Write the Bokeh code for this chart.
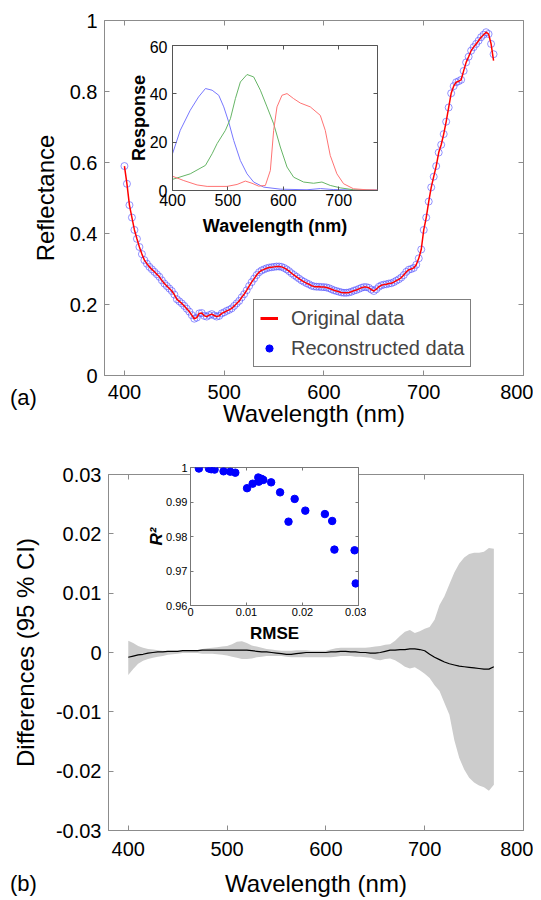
from bokeh.plotting import figure
from bokeh.models import (Range1d, LinearAxis, FixedTicker, Legend, LegendItem, GridBox,
                          Column, Div, CustomLabelingPolicy)
from bokeh.embed import file_html
from bokeh.resources import INLINE

FONT = "Liberation Sans"
GRAY = "#8c8c8c"

# ---------------- data: panel (a) main ----------------
wavelength_a = [400 + 2.5 * i for i in range(149)]
original = [
    0.590, 0.540, 0.480, 0.445, 0.410, 0.385, 0.362, 0.342, 0.325, 0.315,
    0.306, 0.299, 0.292, 0.285, 0.278, 0.268, 0.259, 0.252, 0.245, 0.238,
    0.228, 0.215, 0.209, 0.203, 0.196, 0.188, 0.180, 0.170, 0.160, 0.163,
    0.175, 0.176, 0.168, 0.166, 0.170, 0.173, 0.169, 0.166, 0.168, 0.175,
    0.178, 0.182, 0.185, 0.189, 0.196, 0.203, 0.210, 0.220, 0.229, 0.240,
    0.252, 0.263, 0.273, 0.283, 0.291, 0.296, 0.299, 0.302, 0.304, 0.305,
    0.306, 0.307, 0.307, 0.306, 0.303, 0.299, 0.294, 0.288, 0.283, 0.278,
    0.273, 0.268, 0.264, 0.260, 0.257, 0.253, 0.251, 0.250, 0.250, 0.249,
    0.249, 0.248, 0.246, 0.243, 0.240, 0.238, 0.236, 0.234, 0.233, 0.233,
    0.234, 0.236, 0.239, 0.241, 0.244, 0.247, 0.249, 0.249, 0.247, 0.242,
    0.238, 0.243, 0.250, 0.254, 0.256, 0.257, 0.259, 0.260, 0.263, 0.267,
    0.271, 0.276, 0.283, 0.292, 0.298, 0.300, 0.303, 0.312, 0.330, 0.355,
    0.410, 0.445, 0.490, 0.530, 0.560, 0.590, 0.628, 0.650, 0.680, 0.715,
    0.755, 0.795, 0.815, 0.826, 0.829, 0.833, 0.858, 0.882, 0.898, 0.915,
    0.925, 0.934, 0.943, 0.953, 0.960, 0.967, 0.962, 0.934, 0.887,
]
reconstructed = original[:-1] + [0.905]

a_xticks = [400, 500, 600, 700, 800]
a_xlabels = ["400", "500", "600", "700", "800"]
a_yticks = [0, 0.2, 0.4, 0.6, 0.8, 1]
a_ylabels = ["0", "0.2", "0.4", "0.6", "0.8", "1"]

# ---------------- data: panel (a) inset (camera response) ----------------
blue_wl = [400, 414, 432, 447, 459.5, 471.5, 483.5, 492.5, 501.5, 510.5, 522.5, 534.5, 546.5, 564.5, 594.6, 642.7, 667, 690, 730, 770]
blue_resp = [15.2, 24.9, 33.2, 38.7, 42.2, 41.5, 39.4, 34.6, 28.3, 20.7, 12.4, 6.9, 3.5, 1.4, 0.55, 0.3, 0.8, 0.4, 0.2, 0.2]
green_wl = [400, 432, 459.5, 471.5, 480.5, 495.5, 504.5, 513.5, 522.5, 534.5, 546.5, 558.6, 570.6, 582.6, 594.6, 606.7, 618.7, 636.6, 654.7, 669.7, 684.7, 702.7, 726.8, 770]
green_resp = [4.6, 6.9, 10.4, 15.2, 19.4, 24.9, 29.7, 38.0, 44.9, 48.0, 47.0, 41.5, 34.6, 27.6, 18.0, 9.7, 5.5, 3.5, 3.0, 3.5, 2.1, 1.1, 0.3, 0.0]
red_wl = [400, 420.4, 444.4, 462.5, 498.5, 516.5, 531.5, 543.5, 555.5, 567.6, 576.6, 582.6, 588.6, 597.6, 606.7, 618.7, 630.7, 648.7, 666.7, 675.7, 684.7, 696.7, 708.8, 726.8, 750.8, 770]
red_resp = [5.9, 4.1, 2.3, 1.7, 1.7, 2.5, 3.9, 3.0, 1.8, 2.1, 8.3, 24.9, 34.6, 39.4, 40.1, 38.0, 36.2, 34.6, 31.1, 24.9, 14.5, 6.9, 2.8, 0.7, 0.3, 0.2]

ia_xticks = [400, 500, 600, 700]
ia_xlabels = ["400", "500", "600", "700"]
ia_yticks = [0, 20, 40, 60]
ia_ylabels = ["0", "20", "40", "60"]

# ---------------- data: panel (b) main ----------------
wavelength_b = [400 + 5 * i for i in range(75)]
diff_upper = [
    0.0020, 0.0016, 0.0011, 0.0008, 0.0006, 0.0005, 0.0004, 0.0003, 0.0003, 0.0003,
    0.0003, 0.0003, 0.0004, 0.0004, 0.0004, 0.0006, 0.0007, 0.0008, 0.0009, 0.0010,
    0.0011, 0.0014, 0.0018, 0.0019, 0.0016, 0.0012, 0.0010, 0.0008, 0.0006, 0.0005,
    0.0004, 0.0003, 0.0003, 0.0003, 0.0004, 0.0004, 0.0004, 0.0003, 0.0003, 0.0003,
    0.0003, 0.0005, 0.0007, 0.0008, 0.0008, 0.0008, 0.0008, 0.0008, 0.0008, 0.0009,
    0.0010, 0.0011, 0.0013, 0.0014, 0.0020, 0.0028, 0.0035, 0.0038, 0.0033, 0.0036,
    0.0040, 0.0043, 0.0055, 0.0080, 0.0095, 0.0115, 0.0135, 0.0150, 0.0160, 0.0166,
    0.0168, 0.0168, 0.0170, 0.0176, 0.0175,
]
diff_lower = [
    -0.0038, -0.0028, -0.0019, -0.0014, -0.0011, -0.0009, -0.0007, -0.0006, -0.0004, -0.0003,
    -0.0002, -0.0001, -0.0001, -0.0001, -0.0001, -0.0002, -0.0002, -0.0002, -0.0003, -0.0004,
    -0.0005, -0.0007, -0.0009, -0.0011, -0.0011, -0.0010, -0.0008, -0.0007, -0.0006, -0.0006,
    -0.0006, -0.0006, -0.0007, -0.0008, -0.0008, -0.0008, -0.0008, -0.0008, -0.0008, -0.0008,
    -0.0008, -0.0008, -0.0007, -0.0006, -0.0006, -0.0006, -0.0007, -0.0007, -0.0008, -0.0009,
    -0.0012, -0.0013, -0.0011, -0.0010, -0.0013, -0.0018, -0.0024, -0.0027, -0.0025, -0.0030,
    -0.0036, -0.0043, -0.0055, -0.0065, -0.0085, -0.0105, -0.0148, -0.0178, -0.0197, -0.0211,
    -0.0219, -0.0224, -0.0227, -0.0233, -0.0223,
]
diff_mean = [
    -0.0008, -0.0006, -0.0004, -0.0003, -0.0001, 0.0000, 0.0001, 0.0001, 0.0002, 0.0002,
    0.0002, 0.0003, 0.0003, 0.0003, 0.0003, 0.0004, 0.0004, 0.0004, 0.0004, 0.0004,
    0.0004, 0.0004, 0.0004, 0.0004, 0.0004, 0.0003, 0.0002, 0.0001, 0.0001, 0.0000,
    -0.0001, -0.0002, -0.0003, -0.0003, -0.0002, -0.0001, 0.0000, 0.0000, 0.0000, 0.0000,
    0.0000, 0.0001, 0.0001, 0.0002, 0.0002, 0.0001, 0.0001, 0.0000, 0.0000, -0.0001,
    -0.0001, 0.0000, 0.0002, 0.0004, 0.0004, 0.0005, 0.0005, 0.0006, 0.0006, 0.0005,
    0.0003, -0.0003, -0.0008, -0.0012, -0.0016, -0.0019, -0.0021, -0.0023, -0.0024, -0.0025,
    -0.0026, -0.0027, -0.0028, -0.0028, -0.0024,
]
b_yticks = [-0.03, -0.02, -0.01, 0, 0.01, 0.02, 0.03]
b_ylabels = ["-0.03", "-0.02", "-0.01", "0", "0.01", "0.02", "0.03"]

# ---------------- data: panel (b) inset (RMSE vs R^2) ----------------
rmse = [0.0015, 0.0033, 0.0037, 0.0043, 0.0059, 0.0071, 0.0080, 0.0101, 0.0111, 0.0121,
        0.0122, 0.0127, 0.0130, 0.0144, 0.0160, 0.0175, 0.0186, 0.0205, 0.0240, 0.0253,
        0.0257, 0.0293, 0.0295]
r2 = [0.9997, 0.9997, 0.9995, 0.9994, 0.9989, 0.9988, 0.9985, 0.9940, 0.9953, 0.9971,
      0.9959, 0.9967, 0.9964, 0.9957, 0.9928, 0.9843, 0.9909, 0.9875, 0.9865, 0.9845,
      0.9762, 0.9760, 0.9664]
ib_xticks = [0, 0.01, 0.02, 0.03]
ib_xlabels = ["0", "0.01", "0.02", "0.03"]
ib_yticks = [0.96, 0.97, 0.98, 0.99, 1]
ib_ylabels = ["0.96", "0.97", "0.98", "0.99", "1"]


def boxed_axes(p, xt, xl, yt, yl, font_size, tick_len, color, x_stand, y_stand):
    p.xgrid.visible = False
    p.ygrid.visible = False
    p.outline_line_color = color
    for ax, t, l, st in ((p.below[0], xt, xl, x_stand), (p.left[0], yt, yl, y_stand)):
        ax.ticker = FixedTicker(ticks=t)
        ax.major_label_overrides = dict(zip(t, l))
        ax.major_label_text_font = FONT
        ax.major_label_text_font_size = font_size
        ax.major_label_text_color = "black"
        ax.major_label_standoff = st
        ax.major_tick_in = tick_len
        ax.major_tick_out = 0
        ax.major_tick_line_color = color
        ax.minor_tick_line_color = None
        ax.axis_line_color = color
    for loc, t in (("right", yt), ("above", xt)):
        ax = LinearAxis(ticker=FixedTicker(ticks=t), major_label_text_font_size="1px",
                        major_label_policy=CustomLabelingPolicy(code=""),
                        major_label_standoff=0, major_tick_in=tick_len, major_tick_out=0,
                        major_tick_line_color=color, minor_tick_line_color=None,
                        axis_line_color=None)
        p.add_layout(ax, loc)


def axis_labels(p, xlab, ylab, size, style, x_st, y_st):
    xa, ya = p.below[0], p.left[0]
    xa.axis_label = xlab
    ya.axis_label = ylab
    for ax, st in ((xa, x_st), (ya, y_st)):
        ax.axis_label_text_font = FONT
        ax.axis_label_text_font_size = size
        ax.axis_label_text_font_style = style
        ax.axis_label_text_color = "black"
        ax.axis_label_standoff = st


def place(obj, top, left):
    return Column(children=[obj], margin=(top, 0, 0, left))


# ---------------- panel (a) ----------------
fa = figure(width=525, height=430, x_range=Range1d(380, 800), y_range=Range1d(0, 1),
            output_backend="svg", toolbar_location=None,
            min_border_left=96, min_border_right=10, min_border_top=12, min_border_bottom=63)
boxed_axes(fa, a_xticks, a_xlabels, a_yticks, a_ylabels, "20px", 5, GRAY, 9, 7)
axis_labels(fa, "Wavelength (nm)", "Reflectance", "24px", "normal", -2, 8)
fa.scatter(wavelength_a, reconstructed, marker="circle", size=7, fill_color=None,
           line_color="#4d4dff", line_alpha=0.6, line_width=1)
fa.line(wavelength_a, original, line_color="#ff0000", line_width=1.5)
# legend swatches (drawn off-frame on a hidden range, shown only in the legend)
fa.extra_y_ranges = {"hidden": Range1d(10, 11)}
leg_line = fa.line(wavelength_a, original, y_range_name="hidden", line_color="#ff0000", line_width=3)
leg_dot = fa.scatter(wavelength_a, original, y_range_name="hidden", marker="circle", size=11,
                     fill_color="#0000ff", line_color="#0000ff")
legend = Legend(items=[LegendItem(label="Original data", renderers=[leg_line]),
                       LegendItem(label="Reconstructed data", renderers=[leg_dot])],
                location=(149, 8), margin=0, padding=6, spacing=6,
                label_height=24, glyph_height=24, glyph_width=18, label_standoff=13,
                label_text_font=FONT, label_text_font_size="20px",
                border_line_color="black", border_line_width=1,
                background_fill_color="white", background_fill_alpha=1)
fa.add_layout(legend)

# inset (a)
ia = figure(width=268, height=207, x_range=Range1d(400, 770), y_range=Range1d(0, 60),
            output_backend="svg", toolbar_location=None,
            min_border_left=56, min_border_right=7, min_border_top=5, min_border_bottom=57,
            border_fill_alpha=0, background_fill_color="white")
boxed_axes(ia, ia_xticks, ia_xlabels, ia_yticks, ia_ylabels, "16px", 4, "#555555", 3, 5)
axis_labels(ia, "Wavelength (nm)", "Response", "18px", "bold", 7, -2)
ia.line(blue_wl, blue_resp, line_color="#7777ff", line_width=1)
ia.line(green_wl, green_resp, line_color="#66b566", line_width=1)
ia.line(red_wl, red_resp, line_color="#ff7373", line_width=1)

# ---------------- panel (b) ----------------
fb = figure(width=525, height=437, x_range=Range1d(380, 800), y_range=Range1d(-0.03, 0.03),
            output_backend="svg", toolbar_location=None,
            min_border_left=96, min_border_right=10, min_border_top=12, min_border_bottom=69)
boxed_axes(fb, a_xticks, a_xlabels, b_yticks, b_ylabels, "20px", 5, GRAY, 11, 7)
axis_labels(fb, "Wavelength (nm)", "Differences (95 % CI)", "24px", "normal", 11, 14)
fb.varea(x=wavelength_b, y1=diff_lower, y2=diff_upper, fill_color="#cccccc")
fb.line(wavelength_b, diff_mean, line_color="black", line_width=1.2)

# inset (b)
ib = figure(width=231, height=188, x_range=Range1d(0, 0.03), y_range=Range1d(0.96, 1),
            output_backend="svg", toolbar_location=None,
            min_border_left=55, min_border_right=8, min_border_top=5, min_border_bottom=45,
            border_fill_alpha=0, background_fill_color="white")
boxed_axes(ib, ib_xticks, ib_xlabels, ib_yticks, ib_ylabels, "11px", 3, "#777777", 2, 3)
axis_labels(ib, "RMSE", "R²", "17px", "bold italic", 5, -3)
ib.below[0].axis_label_text_font_style = "bold"
ib.scatter(rmse, r2, marker="circle", size=7.5, fill_color="#0000ff", line_color="#0000ff")

label_style = {"font-family": FONT, "font-size": "22px", "line-height": "26px", "color": "black"}
div_a = Div(text="(a)", width=40, height=26, margin=0, styles=label_style)
div_b = Div(text="(b)", width=40, height=26, margin=0, styles=label_style)

layout = GridBox(children=[
    (place(fa, 8, 8), 0, 0),
    (place(ia, 40, 116), 0, 0),
    (place(div_a, 385, 10), 0, 0),
    (place(fb, 462, 8), 0, 0),
    (place(ib, 462, 135), 0, 0),
    (place(div_b, 871, 10), 0, 0),
])

open("out.html", "w").write(file_html(layout, INLINE))
